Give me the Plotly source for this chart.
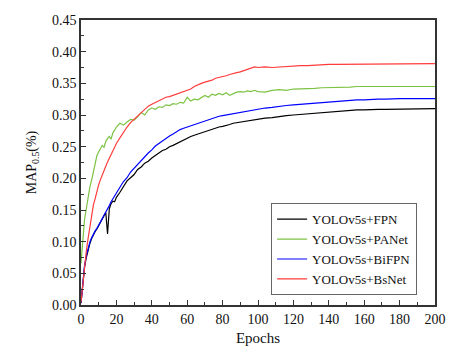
import plotly.graph_objects as go

EPOCHS = list(range(0, 21)) + list(range(22, 101, 2)) + list(range(104, 201, 4))

FPN = [
    0.003, 0.038, 0.060, 0.075, 0.088, 0.097, 0.105, 0.111, 0.116, 0.120,
    0.125, 0.130, 0.134, 0.140, 0.146, 0.112, 0.152, 0.160, 0.164, 0.163, 0.170,
    0.178, 0.186, 0.196, 0.201, 0.206, 0.214, 0.218, 0.224, 0.227, 0.232,
    0.236, 0.240, 0.244, 0.246, 0.250, 0.252, 0.255, 0.258, 0.261, 0.264,
    0.266, 0.268, 0.270, 0.272, 0.274, 0.276, 0.278, 0.279, 0.281, 0.282,
    0.283, 0.285, 0.287, 0.288, 0.289, 0.290, 0.291, 0.292, 0.293, 0.294,
    0.295, 0.296, 0.298, 0.299, 0.300, 0.301, 0.302, 0.303, 0.304, 0.305,
    0.306, 0.307, 0.307, 0.308, 0.308, 0.309, 0.309, 0.309, 0.309, 0.310,
    0.310, 0.310, 0.310, 0.310, 0.310,
]
PANET = [
    0.066, 0.105, 0.135, 0.152, 0.170, 0.186, 0.197, 0.212, 0.226, 0.236,
    0.242, 0.247, 0.252, 0.249, 0.258, 0.263, 0.266, 0.262, 0.272, 0.276, 0.281,
    0.287, 0.284, 0.289, 0.293, 0.292, 0.297, 0.304, 0.300, 0.308, 0.311,
    0.309, 0.313, 0.312, 0.316, 0.315, 0.318, 0.317, 0.320, 0.319, 0.328,
    0.322, 0.325, 0.324, 0.327, 0.331, 0.328, 0.333, 0.331, 0.334, 0.332,
    0.335, 0.331, 0.334, 0.336, 0.337, 0.336, 0.338, 0.337, 0.339, 0.337,
    0.336, 0.339, 0.340, 0.339, 0.341, 0.341, 0.342, 0.342, 0.343, 0.343,
    0.344, 0.344, 0.344, 0.345, 0.345, 0.345, 0.345, 0.345, 0.345, 0.345,
    0.345, 0.345, 0.345, 0.345, 0.345,
]
BIFPN = [
    0.003, 0.040, 0.062, 0.078, 0.090, 0.099, 0.106, 0.112, 0.117, 0.121,
    0.126, 0.131, 0.136, 0.140, 0.146, 0.152, 0.157, 0.163, 0.168, 0.172, 0.176,
    0.186, 0.195, 0.201, 0.210, 0.216, 0.223, 0.229, 0.234, 0.240, 0.245,
    0.251, 0.255, 0.259, 0.264, 0.267, 0.270, 0.274, 0.277, 0.279, 0.281,
    0.283, 0.285, 0.287, 0.289, 0.291, 0.293, 0.295, 0.296, 0.298, 0.299,
    0.300, 0.302, 0.303, 0.304, 0.305, 0.306, 0.307, 0.308, 0.309, 0.310,
    0.311, 0.312, 0.314, 0.315, 0.316, 0.317, 0.318, 0.319, 0.320, 0.321,
    0.322, 0.323, 0.323, 0.324, 0.324, 0.325, 0.325, 0.325, 0.326, 0.326,
    0.326, 0.326, 0.326, 0.326, 0.326,
]
BSNET = [
    0.004, 0.035, 0.060, 0.085, 0.105, 0.125, 0.143, 0.158, 0.168, 0.180,
    0.190, 0.198, 0.206, 0.213, 0.219, 0.226, 0.232, 0.238, 0.245, 0.250, 0.255,
    0.264, 0.273, 0.281, 0.288, 0.293, 0.298, 0.304, 0.309, 0.314, 0.317,
    0.320, 0.323, 0.326, 0.328, 0.329, 0.331, 0.333, 0.336, 0.338, 0.339,
    0.341, 0.345, 0.348, 0.350, 0.352, 0.353, 0.355, 0.358, 0.359, 0.361,
    0.362, 0.364, 0.366, 0.367, 0.368, 0.370, 0.372, 0.374, 0.376, 0.375,
    0.376, 0.375, 0.376, 0.377, 0.377, 0.378, 0.378, 0.379, 0.379, 0.380,
    0.380, 0.380, 0.380, 0.381, 0.381, 0.381, 0.381, 0.381, 0.381, 0.381,
    0.381, 0.381, 0.381, 0.381, 0.381,
]

SERIES = [
    ("YOLOv5s+FPN", FPN, "#000000"),
    ("YOLOv5s+PANet", PANET, "#7CC242"),
    ("YOLOv5s+BiFPN", BIFPN, "#0000FF"),
    ("YOLOv5s+BsNet", BSNET, "#FF3B3B"),
]

FONT = "Liberation Serif, Times New Roman, serif"
AXIS = "#333333"
TEXT = "#111111"

fig = go.Figure()
for name, values, color in SERIES:
    fig.add_trace(go.Scatter(x=EPOCHS, y=values, mode="lines", name=name,
                             line=dict(color=color, width=1.2)))

fig.update_layout(
    width=463, height=357,
    paper_bgcolor="#FFFFFF", plot_bgcolor="#FFFFFF",
    font=dict(family=FONT, size=14, color=TEXT),
    margin=dict(l=81, r=28, t=20, b=52),
    showlegend=True,
    legend=dict(x=0.537, y=0.357, xanchor="left", yanchor="top",
                bgcolor="#FFFFFF", bordercolor="#666666", borderwidth=1,
                font=dict(family=FONT, size=13, color=TEXT),
                tracegroupgap=0, itemwidth=30),
)
fig.update_xaxes(
    range=[0, 200], dtick=20, tick0=0, automargin=False,
    showline=True, linecolor=AXIS, linewidth=1.5, mirror=True,
    ticks="inside", ticklen=5, tickcolor=AXIS, tickwidth=1,
    minor=dict(dtick=10, ticks="inside", ticklen=3, tickcolor=AXIS),
    showgrid=False, zeroline=False,
    tickfont=dict(size=14, color=TEXT),
    title=dict(text="Epochs", font=dict(size=15, color=TEXT), standoff=7),
)
fig.update_yaxes(
    range=[0, 0.45], dtick=0.05, tick0=0, tickformat=".2f", automargin=False,
    showline=True, linecolor=AXIS, linewidth=1.5, mirror=True,
    ticks="inside", ticklen=5, tickcolor=AXIS, tickwidth=1,
    minor=dict(dtick=0.025, ticks="inside", ticklen=3, tickcolor=AXIS),
    showgrid=False, zeroline=False,
    tickfont=dict(size=14, color=TEXT),
    title=dict(text="MAP<sub>0.5</sub>(%)", font=dict(size=14, color=TEXT), standoff=12),
)

# the page's default body margin would shift the figure by 8px
fig.write_html("out.html", config={"displayModeBar": False},
               post_script="document.body.style.margin='0';")
